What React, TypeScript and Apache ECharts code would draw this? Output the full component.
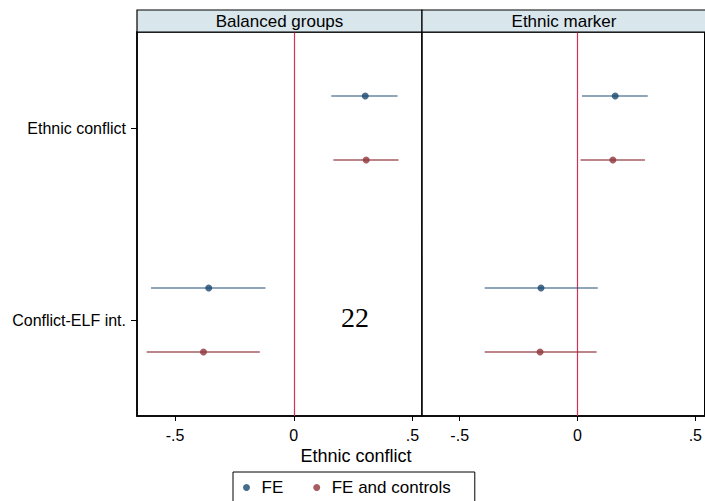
import React, { useEffect, useRef } from "react";
import * as echarts from "echarts";

const categories = ["Ethnic conflict", "Conflict-ELF int."];
const panels = ["Balanced groups", "Ethnic marker"];
const seriesNames = ["FE", "FE and controls"];
const xTicks = [-0.5, 0, 0.5];

// Balanced groups panel
const balFECoef = [0.301, -0.358];
const balFELo = [0.158, -0.601];
const balFEHi = [0.437, -0.119];
const balCtlCoef = [0.305, -0.38];
const balCtlLo = [0.167, -0.619];
const balCtlHi = [0.441, -0.143];
// Ethnic marker panel
const ethFECoef = [0.16, -0.155];
const ethFELo = [0.019, -0.394];
const ethFEHi = [0.298, 0.086];
const ethCtlCoef = [0.15, -0.159];
const ethCtlLo = [0.013, -0.394];
const ethCtlHi = [0.286, 0.081];

const FONT = "'Liberation Sans', Arial, sans-serif";
const NAVY = "#1a476f";
const MAROON = "#90353b";
const OFFSET = 1 / 6;

function fmtTick(v: number): string {
  if (v === 0) return "0";
  const s = Math.abs(v).toString().replace(/^0/, "");
  return (v < 0 ? "-" : "") + s;
}

export default function App() {
  const ref = useRef<HTMLDivElement>(null);
  useEffect(() => {
    if (!ref.current) return;
    const chart = echarts.init(ref.current, undefined, { renderer: "svg" });

    const panelData = [
      [
        { coef: balFECoef, lo: balFELo, hi: balFEHi },
        { coef: balCtlCoef, lo: balCtlLo, hi: balCtlHi },
      ],
      [
        { coef: ethFECoef, lo: ethFELo, hi: ethFEHi },
        { coef: ethCtlCoef, lo: ethCtlLo, hi: ethCtlHi },
      ],
    ];
    const colors = [NAVY, MAROON];
    const ciOpacity = [0.65, 0.8];
    const offsets = [-OFFSET, OFFSET];

    const grids = [
      { left: 137, top: 32, width: 285, height: 384 },
      { left: 422, top: 32, width: 283, height: 384 },
    ].map((g) => ({
      ...g,
      show: true,
      borderColor: "#000",
      borderWidth: 1.5,
      backgroundColor: "#fff",
    }));

    const xAxes = [0, 1].map((i) => ({
      type: "value",
      gridIndex: i,
      position: "bottom",
      min: -0.66,
      max: 0.54,
      axisLine: {
        show: true,
        onZero: false,
        lineStyle: { color: "#000", width: 1.5 },
      },
      axisTick: {
        show: true,
        length: 5,
        customValues: xTicks,
        lineStyle: { color: "#000", width: 1 },
      },
      axisLabel: {
        show: true,
        customValues: xTicks,
        formatter: (v: number) => fmtTick(v),
        fontFamily: FONT,
        fontSize: 16,
        color: "#000",
        margin: 11,
      },
      splitLine: { show: false },
    }));

    const yAxes = [0, 1].map((i) => ({
      type: "value",
      gridIndex: i,
      position: "left",
      min: 0,
      max: 2,
      interval: 1,
      inverse: true,
      axisLine: {
        show: i === 0,
        onZero: false,
        lineStyle: { color: "#000", width: 1.5 },
      },
      axisTick: {
        show: i === 0,
        length: 6,
        customValues: [0.5, 1.5],
        lineStyle: { color: "#000", width: 1 },
      },
      axisLabel: {
        show: i === 0,
        customValues: [0.5, 1.5],
        formatter: (v: number) => categories[Math.floor(v)] ?? "",
        fontFamily: FONT,
        fontSize: 16,
        color: "#000",
        margin: 11,
      },
      splitLine: {
        show: true,
        showMinLine: false,
        showMaxLine: false,
        lineStyle: { color: "#e2ecec", width: 1 },
      },
    }));

    const series: any[] = [];
    panelData.forEach((panel, p) => {
      panel.forEach((s, k) => {
        series.push({
          type: "lines",
          coordinateSystem: "cartesian2d",
          xAxisIndex: p,
          yAxisIndex: p,
          z: 2,
          silent: true,
          lineStyle: { color: colors[k], width: 1.6, opacity: ciOpacity[k] },
          data: categories.map((_, i) => ({
            coords: [
              [s.lo[i], i + 0.5 + offsets[k]],
              [s.hi[i], i + 0.5 + offsets[k]],
            ],
          })),
        });
        const sc: any = {
          type: "scatter",
          name: seriesNames[k],
          xAxisIndex: p,
          yAxisIndex: p,
          z: 3,
          symbol: "circle",
          symbolSize: 7,
          itemStyle: { color: colors[k] },
          data: categories.map((_, i) => [s.coef[i], i + 0.5 + offsets[k]]),
        };
        if (k === 0) {
          sc.markLine = {
            silent: true,
            symbol: "none",
            label: { show: false },
            z: 1,
            lineStyle: { color: "#d0305a", width: 1.2, type: "solid", opacity: 1 },
            data: [{ xAxis: 0 }],
          };
        }
        series.push(sc);
      });
    });

    const strips = [
      { x: 137, w: 285 },
      { x: 422, w: 284 },
    ];

    const graphic: any[] = [];
    strips.forEach((s, i) => {
      graphic.push({
        type: "rect",
        shape: { x: s.x, y: 10, width: s.w, height: 22 },
        style: { fill: "#d9e6ec", stroke: "#000", lineWidth: 1.2 },
        z: 10,
      });
      graphic.push({
        type: "text",
        x: s.x + s.w / 2,
        y: 21,
        style: {
          text: panels[i],
          fill: "#000",
          fontFamily: FONT,
          fontSize: 17,
          textAlign: "center",
          textVerticalAlign: "middle",
        },
        z: 11,
      });
    });
    graphic.push({
      type: "text",
      x: 356,
      y: 456,
      style: {
        text: "Ethnic conflict",
        fill: "#000",
        fontFamily: FONT,
        fontSize: 18,
        textAlign: "center",
        textVerticalAlign: "middle",
      },
    });
    graphic.push({
      type: "text",
      x: 355,
      y: 317,
      style: {
        text: "22",
        fill: "#000",
        fontFamily: "'Liberation Serif', 'DejaVu Serif', serif",
        fontSize: 28,
        textAlign: "center",
        textVerticalAlign: "middle",
      },
      z: 20,
    });

    chart.setOption({
      animation: false,
      backgroundColor: "#fff",
      grid: grids,
      xAxis: xAxes,
      yAxis: yAxes,
      legend: {
        data: seriesNames,
        left: 233,
        top: 472,
        orient: "horizontal",
        padding: [7, 24, 9, 10],
        itemWidth: 20,
        itemHeight: 7,
        itemGap: 30,
        icon: "circle",
        borderColor: "#000",
        borderWidth: 1,
        textStyle: { fontFamily: FONT, fontSize: 17, color: "#000" },
      },
      graphic,
      series,
    });

    return () => chart.dispose();
  }, []);

  return (
    <div
      ref={ref}
      style={{ position: "fixed", left: 0, top: 0, width: 705, height: 501 }}
    />
  );
}
